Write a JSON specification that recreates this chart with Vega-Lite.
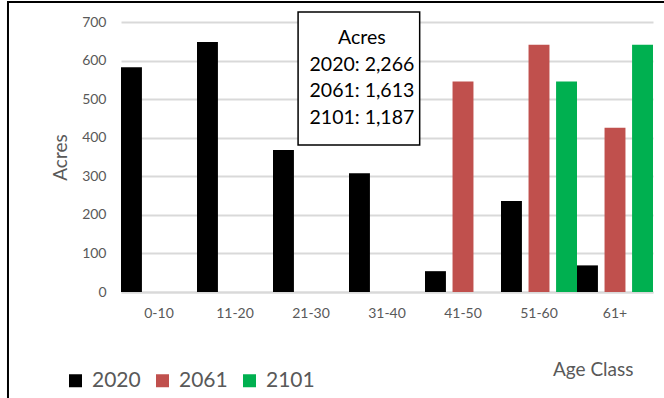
{
  "$schema": "https://vega.github.io/schema/vega-lite/v6.json",
  "width": 532,
  "height": 270,
  "autosize": {"type": "none"},
  "padding": {"left": 121, "top": 22, "right": 11, "bottom": 106},
  "background": "white",
  "config": {
    "font": "Lato",
    "view": {"stroke": null},
    "axis": {"labelColor": "#595959", "titleColor": "#595959", "labelFont": "Lato", "titleFont": "Lato", "titleFontWeight": "normal"}
  },
  "layer": [
    {
      "data": {
        "values": [
          {"age": "0-10", "year": "2020", "acres": 583},
          {"age": "11-20", "year": "2020", "acres": 648},
          {"age": "21-30", "year": "2020", "acres": 368},
          {"age": "31-40", "year": "2020", "acres": 308},
          {"age": "41-50", "year": "2020", "acres": 54},
          {"age": "41-50", "year": "2061", "acres": 546},
          {"age": "51-60", "year": "2020", "acres": 236},
          {"age": "51-60", "year": "2061", "acres": 641},
          {"age": "51-60", "year": "2101", "acres": 546},
          {"age": "61+", "year": "2020", "acres": 69},
          {"age": "61+", "year": "2061", "acres": 426},
          {"age": "61+", "year": "2101", "acres": 641}
        ]
      },
      "mark": {"type": "bar"},
      "encoding": {
        "x": {
          "field": "age", "type": "nominal",
          "scale": {"domain": ["0-10", "11-20", "21-30", "31-40", "41-50", "51-60", "61+"], "paddingInner": 0, "paddingOuter": 0},
          "axis": {
            "labelAngle": 0, "labelFontSize": 14, "labelPadding": 14, "ticks": false,
            "domainColor": "#d9d9d9", "domainWidth": 2,
            "title": "Age Class", "titleFontSize": 19, "titleAnchor": null,
            "titleX": 512, "titleY": 83, "titleAlign": "right", "titleBaseline": "alphabetic"
          }
        },
        "xOffset": {
          "field": "year", "type": "nominal",
          "scale": {"domain": ["2020", "2061", "2101"], "paddingInner": 0.24, "paddingOuter": 0}
        },
        "y": {
          "field": "acres", "type": "quantitative",
          "scale": {"domain": [0, 700], "nice": false},
          "axis": {
            "values": [0, 100, 200, 300, 400, 500, 600, 700],
            "labelFontSize": 14, "labelPadding": 15, "ticks": false, "domain": false,
            "gridColor": "#d9d9d9", "gridWidth": 2,
            "title": "Acres", "titleFontSize": 19, "titlePadding": 11
          }
        },
        "color": {
          "field": "year", "type": "nominal",
          "scale": {"domain": ["2020", "2061", "2101"], "range": ["#000000", "#C0504D", "#00B050"]},
          "legend": {
            "title": null, "orient": "none", "direction": "horizontal",
            "legendX": -56, "legendY": 348,
            "symbolType": "square", "symbolSize": 169, "symbolStrokeWidth": 0, "symbolOpacity": 1,
            "labelFontSize": 21, "labelColor": "#595959", "labelOffset": 6, "columnPadding": 11
          }
        }
      }
    },
    {
      "data": {"values": [{"note": "Acres", "y2020": "2020: 2,266", "y2061": "2061: 1,613", "y2101": "2101: 1,187"}]},
      "layer": [
        {
          "mark": {"type": "rule", "stroke": "black", "strokeWidth": 2},
          "encoding": {
            "x": {"datum": -1.487, "type": "quantitative", "scale": {"domain": [0, 7], "nice": false, "zero": false}, "axis": null},
            "y": {"datum": 752, "type": "quantitative", "scale": {"domain": [0, 700], "nice": false}, "axis": null},
            "y2": {"datum": -280}
          }
        },
        {
          "mark": {"type": "rule", "stroke": "black", "strokeWidth": 2},
          "encoding": {
            "x": {"datum": -1.5, "type": "quantitative", "axis": null},
            "x2": {"datum": 7.2},
            "y": {"datum": 752, "type": "quantitative", "axis": null}
          }
        },
        {
          "mark": {"type": "rect", "fill": "white", "stroke": "black", "strokeWidth": 1.5},
          "encoding": {
            "x": {"datum": 2.33, "type": "quantitative", "axis": null},
            "x2": {"datum": 3.93},
            "y": {"datum": 726, "type": "quantitative", "axis": null},
            "y2": {"datum": 381}
          }
        },
        {
          "mark": {"type": "text", "font": "Lato", "fontWeight": "normal", "fontSize": 19.5, "lineHeight": 26.5, "align": "center", "baseline": "top", "fill": "#000000"},
          "encoding": {
            "x": {"datum": 3.17, "type": "quantitative", "axis": null},
            "y": {"datum": 681, "type": "quantitative", "axis": null},
            "text": {"value": ["Acres", "2020: 2,266", "2061: 1,613", "2101: 1,187"]}
          }
        }
      ]
    }
  ],
  "resolve": {"scale": {"x": "independent", "y": "independent"}}
}
